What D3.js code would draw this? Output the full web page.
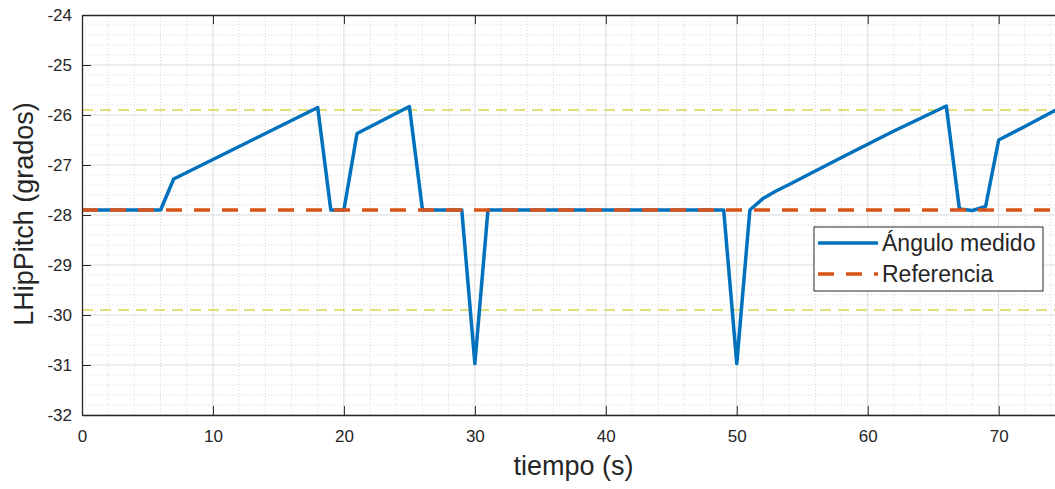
<!DOCTYPE html>
<html>

<head>
    <title>LHipPitch</title>
    <meta charset="UTF-8">
    <style type="text/css">
        body {
            margin: 0;
            background: #fff;
        }

        text {
            font-family: "Liberation Sans", Arial, sans-serif;
            fill: #262626;
        }

        .axis path,
        .axis line {
            stroke: #262626;
        }
    </style>
    <script src="https://d3js.org/d3.v7.min.js"></script>
</head>

<body>
    <script type="text/javascript">
        var tiempo = [0, 6, 7, 18, 19, 20, 21, 25, 26, 29, 30, 31, 49, 50, 51, 52, 53, 54, 58, 62, 66, 67, 68, 69, 70, 72, 74, 75];
        var angulo = [-27.9, -27.9, -27.28, -25.85, -27.9, -27.9, -26.37, -25.83, -27.9, -27.9, -30.97, -27.9,
            -27.9, -30.97, -27.9, -27.67, -27.52, -27.39, -26.85, -26.32, -25.82, -27.88, -27.91, -27.83,
            -26.5, -26.23, -25.95, -25.81];

        var referencia = -27.9;
        var limites = [-25.9, -29.9];

        var xTicks = [0, 10, 20, 30, 40, 50, 60, 70];
        var yTicks = [-24, -25, -26, -27, -28, -29, -30, -31, -32];

        var leyenda = ["Ángulo medido", "Referencia"];

        var margin = {
                top: 15,
                right: 0,
                bottom: 74,
                left: 82
            },
            width = 1055 - margin.left - margin.right,
            height = 489 - margin.top - margin.bottom;

        var svg = d3.select("body")
            .append("svg")
            .attr("width", width + margin.left + margin.right)
            .attr("height", height + margin.top + margin.bottom)
            .append("g")
            .attr("transform", "translate(" + margin.left + "," + margin.top + ")");

        var x = d3.scaleLinear().domain([0, 74.3]).range([0, width]);
        var y = d3.scaleLinear().domain([-32, -24]).range([height, 0]);

        svg.append("clipPath").attr("id", "clip")
            .append("rect").attr("width", width).attr("height", height);

        // minor grid (dotted)
        var grid = svg.append("g").attr("clip-path", "url(#clip)");
        grid.selectAll(".minx")
            .data(d3.range(0, 76, 2).filter(function(d) { return d % 10 != 0; }))
            .enter().append("line")
            .attr("x1", function(d) { return x(d); })
            .attr("x2", function(d) { return x(d); })
            .attr("y1", 0).attr("y2", height)
            .attr("stroke", "#d9d9d9").attr("stroke-dasharray", "1,2");
        grid.selectAll(".miny")
            .data(d3.range(-31.8, -24, 0.2).filter(function(d) { return Math.abs(d - Math.round(d)) > 0.05; }))
            .enter().append("line")
            .attr("y1", function(d) { return y(d); })
            .attr("y2", function(d) { return y(d); })
            .attr("x1", 0).attr("x2", width)
            .attr("stroke", "#d9d9d9").attr("stroke-dasharray", "1,2");

        // major grid
        grid.selectAll(".majx").data(xTicks).enter().append("line")
            .attr("x1", function(d) { return x(d); })
            .attr("x2", function(d) { return x(d); })
            .attr("y1", 0).attr("y2", height)
            .attr("stroke", "#dcdcdc");
        grid.selectAll(".majy").data(yTicks).enter().append("line")
            .attr("y1", function(d) { return y(d); })
            .attr("y2", function(d) { return y(d); })
            .attr("x1", 0).attr("x2", width)
            .attr("stroke", "#dcdcdc");

        var plot = svg.append("g").attr("clip-path", "url(#clip)");

        // yellow limit lines
        plot.selectAll(".lim").data(limites).enter().append("line")
            .attr("x1", 0).attr("x2", width)
            .attr("y1", function(d) { return y(d); })
            .attr("y2", function(d) { return y(d); })
            .attr("stroke", "#e3df78")
            .attr("stroke-width", 2)
            .attr("stroke-dasharray", "11,7");

        // measured angle
        var datos = tiempo.map(function(t, i) { return { t: t, v: angulo[i] }; });
        var valueline = d3.line()
            .x(function(d) { return x(d.t); })
            .y(function(d) { return y(d.v); });
        plot.append("path")
            .datum(datos)
            .attr("d", valueline)
            .attr("fill", "none")
            .attr("stroke", "#0072BD")
            .attr("stroke-width", 3.5)
            .attr("stroke-linejoin", "round");

        // reference
        plot.append("line")
            .attr("x1", 0).attr("x2", width)
            .attr("y1", y(referencia)).attr("y2", y(referencia))
            .attr("stroke", "#D95319")
            .attr("stroke-width", 3.5)
            .attr("stroke-dasharray", "16,12");

        // axes with inward ticks, plain hyphen for negatives
        var plain = function(d) { return String(d); };

        svg.append("g")
            .attr("class", "axis")
            .call(d3.axisLeft(y).tickValues(yTicks).tickFormat(plain)
                .tickSizeInner(-9).tickSizeOuter(0).tickPadding(10))
            .selectAll("text").style("font-size", "17px");

        svg.append("g")
            .attr("class", "axis")
            .attr("transform", "translate(0," + height + ")")
            .call(d3.axisBottom(x).tickValues(xTicks).tickFormat(plain)
                .tickSizeInner(-9).tickSizeOuter(0).tickPadding(15))
            .selectAll("text").style("font-size", "17px");

        svg.append("g")
            .attr("class", "axis")
            .call(d3.axisTop(x).tickValues(xTicks).tickFormat("")
                .tickSizeInner(-9).tickSizeOuter(0));

        svg.selectAll(".axis path").attr("stroke-width", 1.3);

        // axis titles
        svg.append("text")
            .attr("x", width / 2 + 5)
            .attr("y", height + 60)
            .style("text-anchor", "middle")
            .style("font-size", "27px")
            .text("tiempo (s)");

        svg.append("text")
            .attr("transform", "rotate(-90)")
            .attr("x", -(height / 2) + 1)
            .attr("y", -49)
            .style("text-anchor", "middle")
            .style("font-size", "27px")
            .text("LHipPitch (grados)");

        // legend
        var leg = svg.append("g").attr("transform", "translate(" + (814 - margin.left) + "," + (227 - margin.top) + ")");
        leg.append("rect")
            .attr("width", 229).attr("height", 64)
            .attr("fill", "#fff").attr("stroke", "#262626");
        leg.selectAll(".item").data(leyenda).enter().append("g")
            .attr("transform", function(d, i) { return "translate(0," + (16 + i * 31) + ")"; })
            .each(function(d, i) {
                var g = d3.select(this);
                g.append("line")
                    .attr("x1", 4).attr("x2", 64)
                    .attr("stroke", i == 0 ? "#0072BD" : "#D95319")
                    .attr("stroke-width", 3.5)
                    .attr("stroke-dasharray", i == 0 ? null : "16,12");
                g.append("text")
                    .attr("x", 68).attr("dy", "0.35em")
                    .style("font-size", "23px")
                    .text(d);
            });
    </script>

</body>

</html>
